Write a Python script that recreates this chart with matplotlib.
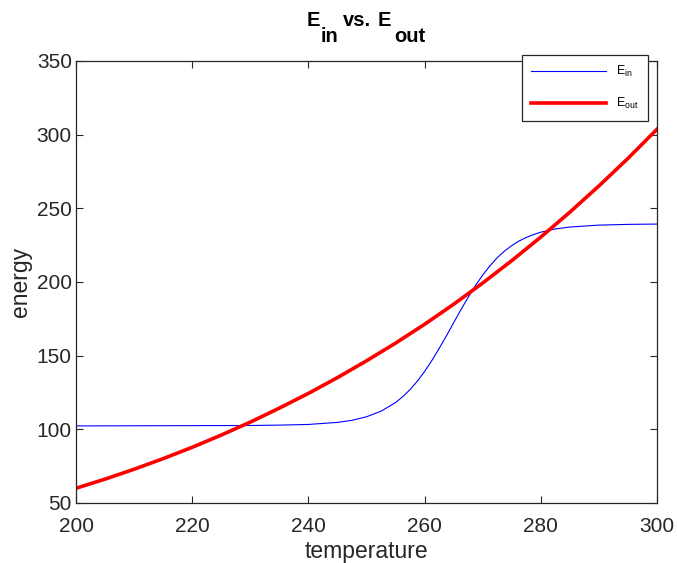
import matplotlib
matplotlib.use("Agg")
import matplotlib.pyplot as plt

# values
temp_in = [200, 210, 220, 230, 235, 240, 245, 247.5, 250, 252.5, 255, 256.25, 257.5,
           258.75, 260, 261.25, 262.5, 263.75, 265, 266.25, 267.5, 268.75, 270, 271.25,
           272.5, 273.75, 275, 276.25, 277.5, 278.75, 280, 282.5, 285, 290, 295, 300]
e_in = [102.3, 102.4, 102.5, 102.6, 102.85, 103.3, 104.7, 106.1, 108.5, 112.3, 118.2,
        122.2, 127.0, 132.7, 139.3, 146.7, 154.9, 163.4, 172.4, 181.2, 189.6, 197.6,
        204.7, 211.0, 216.5, 221.0, 224.7, 227.8, 230.2, 232.2, 233.8, 236.0, 237.3,
        238.6, 239.1, 239.3]

temp_out = [200, 205, 210, 215, 220, 225, 230, 235, 240, 245, 250,
            255, 260, 265, 270, 275, 280, 285, 290, 295, 300]
e_out = [60.0, 66.2, 72.9, 80.1, 87.8, 96.1, 104.9, 114.4, 124.4, 135.1, 146.5,
         158.5, 171.3, 184.9, 199.3, 214.5, 230.5, 247.4, 265.2, 283.9, 303.7]

x_ticks = [200, 220, 240, 260, 280, 300]
y_ticks = [50, 100, 150, 200, 250, 300, 350]

plt.rcParams['font.family'] = ['Liberation Sans', 'DejaVu Sans']
plt.rcParams['mathtext.fontset'] = 'custom'
plt.rcParams['mathtext.rm'] = 'Liberation Sans'
plt.rcParams['mathtext.it'] = 'Liberation Sans'
plt.rcParams['mathtext.bf'] = 'Liberation Sans:bold'

dark = "#262626"
W, H = 677, 563

fig = plt.figure(figsize=(6.77, 5.63), dpi=100)
ax = fig.add_axes([0.1123, 0.1066, 0.8582, 0.7851])

ax.plot(temp_in, e_in, color="#0000ff", linewidth=0.8, label=r"E$_{\mathrm{in}}$")
ax.plot(temp_out, e_out, color="#ff0000", linewidth=2.6, label=r"E$_{\mathrm{out}}$")

ax.set_xlim(200, 300)
ax.set_ylim(50, 350)
ax.set_xticks(x_ticks)
ax.set_yticks(y_ticks)
ax.tick_params(direction="in", top=True, right=True, length=5, width=0.8,
               labelsize=15, colors=dark)
ax.tick_params(axis="x", pad=10)
ax.tick_params(axis="y", pad=3)
for s in ax.spines.values():
    s.set_color(dark)
    s.set_linewidth(0.9)

ax.set_xlabel("temperature", fontsize=16.5, color=dark, labelpad=3)
ax.set_ylabel("energy", fontsize=16.5, color=dark, labelpad=3.5)

# title in pieces so the subscripts stay full size (matlab style)
tkw = dict(fontsize=14.5, fontweight="bold", color="black", ha="left", va="baseline")
base_y = 1 - 26 / H
sub_y = 1 - 42 / H
fig.text(307 / W, base_y, "E", **tkw)
fig.text(321 / W, sub_y, "in", **tkw)
fig.text(343 / W, base_y, "vs.", **tkw)
fig.text(378 / W, base_y, "E", **tkw)
fig.text(394 / W, sub_y, "out", **tkw)

leg = ax.legend(loc="upper right", bbox_to_anchor=(0.9845, 1.0136), fontsize=9,
                fancybox=False, framealpha=1, edgecolor=dark, handlelength=6.0,
                labelspacing=1.35, borderpad=0.75, handletextpad=0.8, borderaxespad=0)
leg.get_frame().set_linewidth(0.9)

fig.savefig("out.png", dpi=100)
